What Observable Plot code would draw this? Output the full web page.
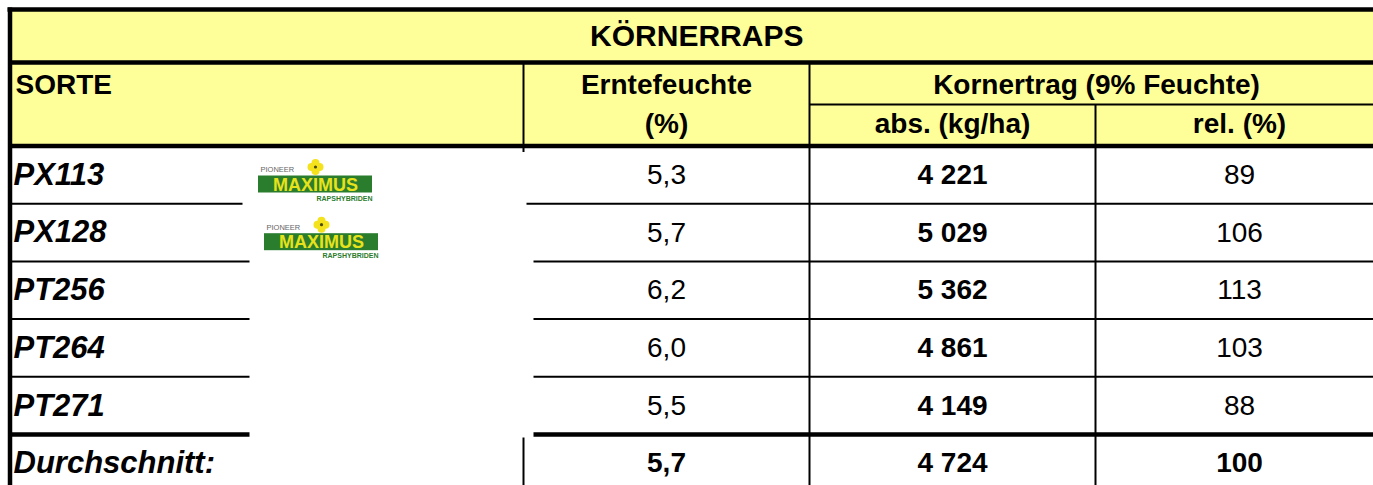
<!DOCTYPE html>
<html><head><meta charset="utf-8">
<script src="https://cdn.jsdelivr.net/npm/d3@7"></script>
<script src="https://cdn.jsdelivr.net/npm/@observablehq/plot@0.6"></script>
<style>html,body{margin:0;padding:0;background:#fff;overflow:hidden}</style>
</head><body><div id="chart"></div>
<script>
// ---- data ----
const title = "KÖRNERRAPS";
const headerSorte = "SORTE";
const headerMoisture = ["Erntefeuchte", "(%)"];
const headerYield = "Kornertrag (9% Feuchte)";
const headerYieldSub = ["abs. (kg/ha)", "rel. (%)"];
const varieties = ["PX113", "PX128", "PT256", "PT264", "PT271"];
const moisture = [5.3, 5.7, 6.2, 6.0, 5.5];
const yieldAbs = [4221, 5029, 5362, 4861, 4149];
const yieldRel = [89, 106, 113, 103, 88];
const hasLogo = [true, true, false, false, false];
const avgLabel = "Durchschnitt:";
const avgMoisture = 5.7;
const avgAbs = 4724;
const avgRel = 100;

// ---- layout ----
const W = 1373, H = 485;
const xL = 9.5, xA = 523, xB = 809, xC = 1095, xR = 1383;
const yTop = 9, yTitle = 62, yHdr2 = 104, yHdrB = 145.5, rowH = 57.7;
const rowTop = i => yHdrB + i * rowH;
const rowMid = i => yHdrB + (i + 0.5) * rowH;
const colMid = [(xA + xB) / 2, (xB + xC) / 2, (xC + xR) / 2];
const FONT = "Liberation Sans, Arial, Helvetica, sans-serif";
const FS = 28;
const YELLOW = "#FFFF99";

const locale = d3.formatLocale({decimal: ",", thousands: " ", grouping: [3], currency: ["", ""]});
const fmtDec = locale.format(".1f");
const fmtInt = locale.format(",d");

const rows = varieties.map((v, i) => ({i, v, m: moisture[i], a: yieldAbs[i], r: yieldRel[i], logo: hasLogo[i]}));
const avgRow = {i: varieties.length, v: avgLabel, m: avgMoisture, a: avgAbs, r: avgRel};

// line segments
const thick = [
  {x1: 7, y1: yTop, x2: xR, y2: yTop},
  {x1: xL, y1: 7, x2: xL, y2: H + 10},
  {x1: xL, y1: yTitle, x2: xR, y2: yTitle},
  {x1: xL, y1: yHdrB, x2: xR, y2: yHdrB},
  {x1: xL, y1: rowTop(5), x2: 249, y2: rowTop(5)},
  {x1: 533, y1: rowTop(5), x2: xR, y2: rowTop(5)}
];
const thin = [
  {x1: xB, y1: yHdr2, x2: xR, y2: yHdr2},
  {x1: xA, y1: yTitle, x2: xA, y2: yHdrB + 6},
  {x1: xA, y1: rowTop(5) + 3, x2: xA, y2: H + 10},
  {x1: xB, y1: yTitle, x2: xB, y2: H + 10},
  {x1: xC, y1: yHdr2, x2: xC, y2: H + 10}
];
for (let i = 1; i < 5; i++) {
  const y = rowTop(i);
  thin.push({x1: xL, y1: y, x2: i === 1 ? 242 : 249, y2: y});
  thin.push({x1: i === 1 ? 526 : 533, y1: y, x2: xR, y2: y});
}

// logos
const logos = rows.filter(d => d.logo).map(d => ({lx: 258 + d.i * 6, ly: rowTop(d.i)}));
const petals = logos.flatMap(l => [[-4, 0], [4, 0], [0, -4], [0, 4]].map(([dx, dy]) => ({x: l.lx + 57 + dx, y: l.ly + 21 + dy})));

const hdrCentered = [
  {x: colMid[0], y: 85, t: headerMoisture[0]},
  {x: colMid[0], y: 124, t: headerMoisture[1]},
  {x: (xB + xR) / 2, y: 85, t: headerYield},
  {x: colMid[1], y: 124, t: headerYieldSub[0]},
  {x: colMid[2], y: 124, t: headerYieldSub[1]}
];

const base = {fontFamily: FONT, fontSize: FS, fill: "#000", lineAnchor: "middle"};

const chart = Plot.plot({
  width: W, height: H, margin: 0,
  x: {domain: [0, W], range: [0, W], axis: null},
  y: {domain: [0, H], range: [0, H], axis: null},
  style: {fontFamily: FONT, background: "#fff"},
  marks: [
    Plot.rect([{}], {x1: () => xL, x2: () => xR, y1: () => yTop, y2: () => yHdrB, fill: YELLOW}),
    // logos
    Plot.rect(logos, {x1: "lx", x2: d => d.lx + 114, y1: d => d.ly + 30, y2: d => d.ly + 47, fill: "#2b7d2e"}),
    Plot.text(logos, {x: d => d.lx + 57, y: d => d.ly + 39, text: () => "MAXIMUS", fontFamily: FONT, fontSize: 18, fontWeight: "bold", fill: "#e8e21a", lineAnchor: "middle"}),
    Plot.text(logos, {x: d => d.lx + 2, y: d => d.ly + 24, text: () => "PIONEER", fontFamily: FONT, fontSize: 7.5, fill: "#666", textAnchor: "start", lineAnchor: "middle"}),
    Plot.text(logos, {x: d => d.lx + 114, y: d => d.ly + 52.5, text: () => "RAPSHYBRIDEN", fontFamily: FONT, fontSize: 7, fontWeight: "bold", fill: "#2b7d2e", textAnchor: "end", lineAnchor: "middle"}),
    Plot.dot(petals, {x: "x", y: "y", r: 4, fill: "#f3e21c"}),
    Plot.dot(logos, {x: d => d.lx + 57, y: d => d.ly + 21, r: 1.6, fill: "#4a4a10"}),
    // lines
    Plot.link(thin, {x1: "x1", y1: "y1", x2: "x2", y2: "y2", stroke: "#000", strokeWidth: 2, strokeLinecap: "butt"}),
    Plot.link(thick, {x1: "x1", y1: "y1", x2: "x2", y2: "y2", stroke: "#000", strokeWidth: 4.5, strokeLinecap: "butt"}),
    // header texts
    Plot.text([title], {...base, x: () => (xL + xR) / 2, y: () => 36, text: d => d, fontWeight: "bold", fontSize: 30}),
    Plot.text([headerSorte], {...base, x: () => 15, y: () => 85, text: d => d, textAnchor: "start", fontWeight: "bold"}),
    Plot.text(hdrCentered, {...base, x: "x", y: "y", text: "t", fontWeight: "bold"}),
    // body
    Plot.text(rows, {...base, x: () => 13, y: d => rowMid(d.i), text: "v", textAnchor: "start", fontWeight: "bold", fontStyle: "italic", fontSize: 31}),
    Plot.text(rows, {...base, x: () => colMid[0], y: d => rowMid(d.i), text: d => fmtDec(d.m)}),
    Plot.text(rows, {...base, x: () => colMid[1], y: d => rowMid(d.i), text: d => fmtInt(d.a), fontWeight: "bold"}),
    Plot.text(rows, {...base, x: () => colMid[2], y: d => rowMid(d.i), text: d => String(d.r)}),
    // average row
    Plot.text([avgRow], {...base, x: () => 13, y: d => rowMid(d.i), text: "v", textAnchor: "start", fontWeight: "bold", fontStyle: "italic", fontSize: 31}),
    Plot.text([avgRow], {...base, x: () => colMid[0], y: d => rowMid(d.i), text: d => fmtDec(d.m), fontWeight: "bold"}),
    Plot.text([avgRow], {...base, x: () => colMid[1], y: d => rowMid(d.i), text: d => fmtInt(d.a), fontWeight: "bold"}),
    Plot.text([avgRow], {...base, x: () => colMid[2], y: d => rowMid(d.i), text: d => String(d.r), fontWeight: "bold"})
  ]
});
document.getElementById("chart").appendChild(chart);
</script>
</body></html>
